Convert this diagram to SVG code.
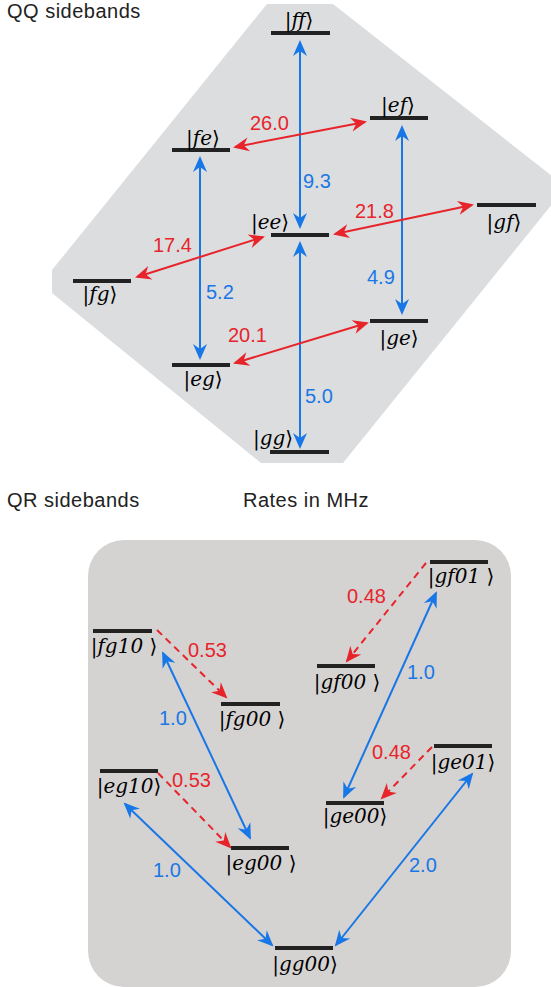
<svg xmlns="http://www.w3.org/2000/svg" width="551" height="987" viewBox="0 0 551 987">
  <style>
    .title { font-family: "Liberation Sans", Arial, sans-serif; font-size: 20px; fill: #222; letter-spacing: 0.5px; }
    .num { font-family: "Liberation Sans", Arial, sans-serif; font-size: 20px; }
    .red { fill: #e8242b; }
    .blue { fill: #1877e6; }
    .ket { font-family: "DejaVu Serif", "Liberation Serif", serif; font-size: 20px; fill: #000; text-anchor: middle; }
    .it { font-style: italic; }
    .bar { stroke: #222; stroke-width: 4; }
    .b { stroke: #1877e6; stroke-width: 2; fill: none; marker-start: url(#hb); marker-end: url(#hb); }
    .r { stroke: #e8242b; stroke-width: 2; fill: none; marker-start: url(#hr); marker-end: url(#hr); }
    .rd { stroke: #e8242b; stroke-width: 2; fill: none; stroke-dasharray: 7 5; marker-end: url(#hr); }
  </style>
  <defs>
    <marker id="hb" markerUnits="userSpaceOnUse" viewBox="-17 -8 19 16" refX="-2" refY="0" markerWidth="19" markerHeight="16" orient="auto-start-reverse">
      <path d="M0,0 L-16,-7 L-11,0 L-16,7 Z" fill="#1877e6"/>
    </marker>
    <marker id="hr" markerUnits="userSpaceOnUse" viewBox="-17 -8 19 16" refX="-2" refY="0" markerWidth="19" markerHeight="16" orient="auto-start-reverse">
      <path d="M0,0 L-16,-7 L-11,0 L-16,7 Z" fill="#e8242b"/>
    </marker>
  </defs>

  <!-- headings -->
  <text class="title" x="7" y="18">QQ sidebands</text>
  <text class="title" x="7" y="507">QR sidebands</text>
  <text class="title" x="243" y="507">Rates in MHz</text>

  <!-- backgrounds -->
  <polygon points="267,4 333,4 566,187 343,463 261,463 52,293 52,270" fill="#dcdddf"/>
  <rect x="88" y="540" width="423" height="447" rx="36" ry="36" fill="#d5d2d2"/>

  <!-- two-qubit levels -->
  <g id="ff"><line class="bar" x1="271" y1="33" x2="330" y2="33"/><text class="ket" x="299" y="27">|<tspan class="it">ff</tspan>⟩</text></g>
  <g id="fe"><line class="bar" x1="172" y1="150" x2="230" y2="150"/><text class="ket" x="203" y="145">|<tspan class="it">fe</tspan>⟩</text></g>
  <g id="ef"><line class="bar" x1="370" y1="118" x2="428" y2="118"/><text class="ket" x="398" y="112">|<tspan class="it">ef</tspan>⟩</text></g>
  <g id="ee"><line class="bar" x1="271" y1="235" x2="329" y2="235"/><text class="ket" x="270" y="229">|<tspan class="it">ee</tspan>⟩</text></g>
  <g id="gf"><line class="bar" x1="477" y1="205" x2="536" y2="205"/><text class="ket" x="504" y="229">|<tspan class="it">gf</tspan>⟩</text></g>
  <g id="fg"><line class="bar" x1="73" y1="281" x2="131" y2="281"/><text class="ket" x="100" y="301">|<tspan class="it">fg</tspan>⟩</text></g>
  <g id="eg"><line class="bar" x1="172" y1="365" x2="230" y2="365"/><text class="ket" x="203" y="386">|<tspan class="it">eg</tspan>⟩</text></g>
  <g id="ge"><line class="bar" x1="370" y1="321" x2="428" y2="321"/><text class="ket" x="399" y="345">|<tspan class="it">ge</tspan>⟩</text></g>
  <g id="gg"><line class="bar" x1="270" y1="452" x2="329" y2="452"/><text class="ket" x="273" y="445">|<tspan class="it">gg</tspan>⟩</text></g>

  <!-- qubit-resonator levels -->
  <g id="fg10"><line class="bar" x1="93" y1="631" x2="152" y2="631"/><text class="ket" x="124" y="653">|<tspan class="it">fg10</tspan> ⟩</text></g>
  <g id="fg00"><line class="bar" x1="221" y1="704" x2="280" y2="704"/><text class="ket" x="252" y="726">|<tspan class="it">fg00</tspan> ⟩</text></g>
  <g id="gf01"><line class="bar" x1="430" y1="562" x2="488" y2="562"/><text class="ket" x="461" y="583">|<tspan class="it">gf01</tspan> ⟩</text></g>
  <g id="gf00"><line class="bar" x1="317" y1="666" x2="375" y2="666"/><text class="ket" x="347" y="689">|<tspan class="it">gf00</tspan> ⟩</text></g>
  <g id="ge01"><line class="bar" x1="434" y1="746" x2="492" y2="746"/><text class="ket" x="463" y="769">|<tspan class="it">ge01</tspan>⟩</text></g>
  <g id="ge00"><line class="bar" x1="326" y1="803" x2="384" y2="803"/><text class="ket" x="355" y="823">|<tspan class="it">ge00</tspan>⟩</text></g>
  <g id="eg10"><line class="bar" x1="100" y1="771" x2="158" y2="771"/><text class="ket" x="129" y="793">|<tspan class="it">eg10</tspan>⟩</text></g>
  <g id="eg00"><line class="bar" x1="231" y1="848" x2="289" y2="848"/><text class="ket" x="261" y="870">|<tspan class="it">eg00</tspan> ⟩</text></g>
  <g id="gg00"><line class="bar" x1="275" y1="948" x2="333" y2="948"/><text class="ket" x="305" y="971">|<tspan class="it">gg00</tspan>⟩</text></g>

  <!-- transitions -->
  <g id="connectors">
    <line class="b" x1="300" y1="42" x2="300" y2="227"/>
    <line class="b" x1="200" y1="158" x2="200" y2="358"/>
    <line class="b" x1="402" y1="127" x2="402" y2="313"/>
    <line class="b" x1="300" y1="243" x2="300" y2="447"/>
    <line class="r" x1="235" y1="147" x2="365" y2="122"/>
    <line class="r" x1="335" y1="234" x2="472" y2="205"/>
    <line class="r" x1="137" y1="277" x2="263" y2="237"/>
    <line class="r" x1="235" y1="363" x2="367" y2="323"/>

    <line class="b" x1="163" y1="653" x2="250" y2="838"/>
    <line class="b" x1="436" y1="593" x2="344" y2="797"/>
    <line class="b" x1="125" y1="804" x2="272" y2="945"/>
    <line class="b" x1="472" y1="774" x2="336" y2="945"/>
    <line class="rd" x1="157" y1="630" x2="226" y2="697"/>
    <line class="rd" x1="426" y1="563" x2="347" y2="661"/>
    <line class="rd" x1="158" y1="773" x2="230" y2="847"/>
    <line class="rd" x1="432" y1="747" x2="382" y2="798"/>
  </g>

  <!-- rates -->
  <g id="rates">
    <text class="num red" x="250" y="130">26.0</text>
    <text class="num blue" x="303" y="188">9.3</text>
    <text class="num red" x="355" y="218">21.8</text>
    <text class="num red" x="153" y="252">17.4</text>
    <text class="num blue" x="206" y="299">5.2</text>
    <text class="num blue" x="367" y="284">4.9</text>
    <text class="num red" x="228" y="342">20.1</text>
    <text class="num blue" x="305" y="403">5.0</text>

    <text class="num red" x="188" y="657">0.53</text>
    <text class="num blue" x="159" y="725">1.0</text>
    <text class="num red" x="347" y="603">0.48</text>
    <text class="num blue" x="407" y="679">1.0</text>
    <text class="num red" x="172" y="787">0.53</text>
    <text class="num red" x="372" y="759">0.48</text>
    <text class="num blue" x="153" y="877">1.0</text>
    <text class="num blue" x="409" y="872">2.0</text>
  </g>
</svg>
